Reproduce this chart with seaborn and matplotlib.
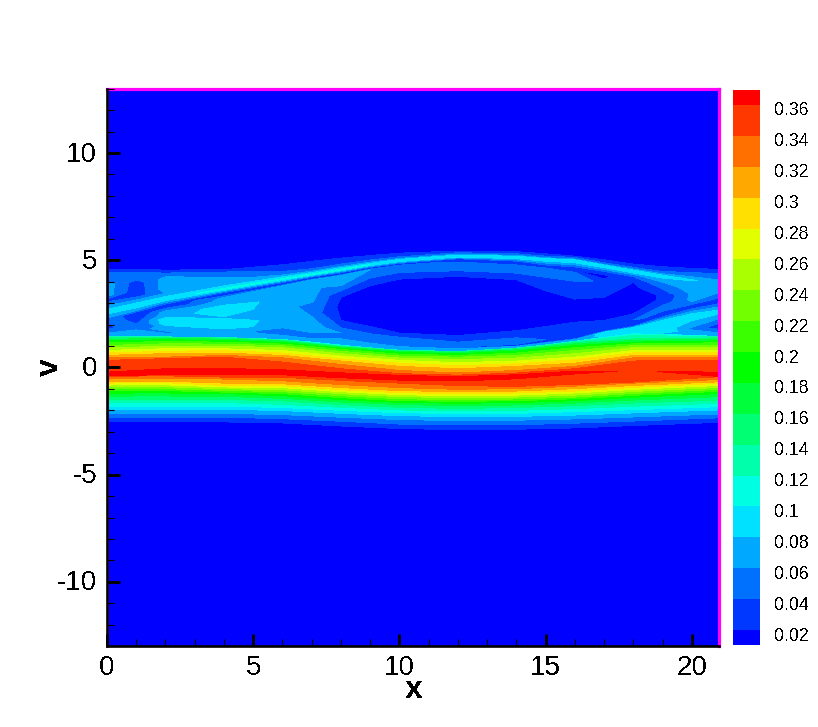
import numpy as np
import matplotlib
matplotlib.use("Agg")
import matplotlib.pyplot as plt
import matplotlib.transforms as mtrans
import seaborn as sns

# Main band: columns of the table
x_cols = [0, 1, 2, 4, 6, 8, 10, 12, 14, 16, 18, 20.94]

# Lower flank of the main band: (value, v position per column)
low_vals = [0.012, 0.02, 0.04, 0.06, 0.08, 0.10, 0.12, 0.14, 0.16, 0.18, 0.20, 0.22, 0.24, 0.26, 0.28, 0.30, 0.32, 0.34]
low_v = [
    [-2.66, -2.66, -2.66, -2.66, -2.71, -2.85, -2.97, -3.02, -3.00, -2.94, -2.83, -2.68],
    [-2.54, -2.54, -2.54, -2.54, -2.59, -2.73, -2.85, -2.90, -2.88, -2.82, -2.71, -2.56],
    [-2.34, -2.33, -2.32, -2.32, -2.39, -2.51, -2.64, -2.68, -2.67, -2.60, -2.50, -2.35],
    [-2.15, -2.14, -2.14, -2.14, -2.20, -2.32, -2.43, -2.48, -2.46, -2.40, -2.31, -2.17],
    [-1.97, -1.95, -1.95, -1.95, -2.01, -2.14, -2.25, -2.29, -2.28, -2.22, -2.12, -1.98],
    [-1.81, -1.80, -1.80, -1.80, -1.87, -2.00, -2.11, -2.15, -2.14, -2.06, -1.97, -1.83],
    [-1.66, -1.64, -1.64, -1.64, -1.72, -1.86, -1.98, -2.03, -2.00, -1.92, -1.81, -1.67],
    [-1.50, -1.49, -1.49, -1.49, -1.56, -1.73, -1.86, -1.91, -1.87, -1.78, -1.66, -1.52],
    [-1.35, -1.33, -1.33, -1.35, -1.44, -1.61, -1.73, -1.78, -1.75, -1.66, -1.52, -1.36],
    [-1.21, -1.19, -1.19, -1.22, -1.32, -1.50, -1.63, -1.67, -1.64, -1.55, -1.39, -1.22],
    [-1.10, -1.08, -1.08, -1.15, -1.22, -1.41, -1.55, -1.58, -1.55, -1.46, -1.30, -1.11],
    [-1.01, -0.99, -0.99, -1.07, -1.13, -1.32, -1.46, -1.50, -1.47, -1.38, -1.21, -1.02],
    [-0.91, -0.90, -0.90, -0.99, -1.04, -1.22, -1.36, -1.41, -1.38, -1.29, -1.12, -0.93],
    [-0.82, -0.81, -0.81, -0.91, -0.94, -1.13, -1.27, -1.32, -1.29, -1.19, -1.02, -0.84],
    [-0.73, -0.71, -0.71, -0.84, -0.85, -1.04, -1.18, -1.22, -1.19, -1.10, -0.93, -0.74],
    [-0.65, -0.64, -0.64, -0.73, -0.76, -0.94, -1.08, -1.13, -1.10, -0.99, -0.84, -0.67],
    [-0.54, -0.53, -0.51, -0.54, -0.62, -0.80, -0.94, -1.02, -0.99, -0.87, -0.73, -0.56],
    [-0.43, -0.40, -0.39, -0.45, -0.46, -0.60, -0.73, -0.85, -0.88, -0.79, -0.68, -0.43],
]

# Crest of the main band: edge, ridge, edge (v and value per column)
crest_v = [
    [-0.40, -0.36, -0.34, -0.34, -0.34, -0.48, -0.59, -0.63, -0.53, -0.30, -0.26, -0.42],
    [-0.31, -0.22, -0.17, -0.15, -0.23, -0.37, -0.50, -0.54, -0.45, -0.26, -0.14, -0.32],
    [-0.22, -0.14, -0.06, -0.05, -0.11, -0.25, -0.37, -0.43, -0.34, -0.17, -0.00, -0.22],
]
crest_f = [
    [0.36, 0.36, 0.36, 0.36, 0.36, 0.36, 0.36, 0.36, 0.36, 0.36, 0.35, 0.36],
    [0.368, 0.368, 0.368, 0.368, 0.368, 0.368, 0.368, 0.368, 0.368, 0.368, 0.357, 0.368],
    [0.36, 0.36, 0.36, 0.36, 0.36, 0.36, 0.36, 0.36, 0.36, 0.36, 0.35, 0.36],
]

# Upper flank of the main band
up_vals = [0.34, 0.32, 0.30, 0.28, 0.26, 0.24, 0.22, 0.20, 0.18, 0.16, 0.14, 0.12, 0.10, 0.08]
up_v = [
    [0.33, 0.37, 0.41, 0.48, 0.25, -0.06, -0.29, -0.36, -0.26, -0.06, 0.30, 0.33],
    [0.45, 0.48, 0.48, 0.56, 0.45, 0.14, -0.14, -0.26, -0.14, 0.05, 0.45, 0.45],
    [0.56, 0.61, 0.64, 0.67, 0.56, 0.30, 0.05, -0.06, 0.05, 0.20, 0.56, 0.56],
    [0.68, 0.71, 0.76, 0.78, 0.67, 0.40, 0.20, 0.08, 0.17, 0.36, 0.68, 0.68],
    [0.79, 0.84, 0.87, 0.87, 0.79, 0.53, 0.33, 0.22, 0.30, 0.48, 0.79, 0.79],
    [0.92, 0.95, 0.98, 0.99, 0.92, 0.64, 0.44, 0.36, 0.44, 0.64, 0.92, 0.92],
    [1.02, 1.07, 1.10, 1.09, 1.01, 0.75, 0.53, 0.48, 0.56, 0.79, 1.02, 1.02],
    [1.15, 1.18, 1.21, 1.18, 1.09, 0.84, 0.62, 0.56, 0.67, 0.92, 1.10, 1.15],
    [1.24, 1.27, 1.29, 1.26, 1.16, 0.90, 0.70, 0.64, 0.76, 1.02, 1.18, 1.24],
    [1.32, 1.33, 1.35, 1.32, 1.23, 0.95, 0.75, 0.70, 0.82, 1.10, 1.26, 1.32],
    [1.38, 1.40, 1.40, 1.37, 1.26, 0.98, 0.78, 0.73, 0.87, 1.16, 1.33, 1.38],
    [1.43, 1.43, 1.43, 1.40, 1.29, 1.01, 0.81, 0.75, 0.90, 1.21, 1.49, 1.43],
    [1.46, 1.46, 1.46, 1.43, 1.32, 1.04, 0.82, 0.76, 0.93, 1.24, 1.57, 1.46],
    [1.50, 1.49, 1.47, 1.46, 1.35, 1.09, 0.85, 0.79, 0.95, 1.27, 1.65, 1.49],
]

# Vortex region above the main band, one v list and one value list per column
vortex_x = [0, 1, 2, 4, 6, 7, 8, 9, 10, 12, 14, 15, 16, 17, 18, 19, 20, 20.94]
vortex_v = [
    [1.51, 1.60, 1.91, 2.06, 2.19, 2.25, 2.27, 2.28, 2.30, 2.30, 2.31, 2.32, 2.33, 2.34, 2.37, 2.62, 3.15, 3.35, 3.89, 4.02, 4.43, 4.59, 4.74],
    [1.49, 1.57, 1.75, 1.85, 2.03, 2.11, 2.19, 2.31, 2.40, 2.47, 2.53, 2.59, 2.65, 2.70, 2.78, 2.93, 3.35, 3.58, 3.97, 4.17, 4.43, 4.57, 4.74],
    [1.47, 1.55, 1.65, 1.75, 1.88, 2.03, 2.22, 2.37, 2.57, 2.68, 2.76, 2.81, 2.87, 2.93, 2.99, 3.19, 3.46, 3.66, 4.12, 4.28, 4.40, 4.54, 4.70],
    [1.44, 1.52, 1.60, 1.69, 1.75, 1.85, 2.19, 2.31, 2.47, 2.73, 2.96, 3.12, 3.24, 3.30, 3.43, 3.66, 3.89, 4.05, 4.20, 4.36, 4.45, 4.56, 4.74],
    [1.35, 1.43, 1.57, 1.72, 1.85, 1.95, 2.19, 2.50, 2.96, 3.27, 3.50, 3.66, 3.77, 3.81, 3.89, 4.12, 4.29, 4.36, 4.42, 4.48, 4.54, 4.79, 4.98],
    [1.23, 1.30, 1.38, 1.46, 1.57, 1.69, 1.95, 2.19, 2.73, 3.19, 3.50, 3.81, 3.97, 4.08, 4.16, 4.34, 4.48, 4.51, 4.56, 4.60, 4.65, 4.95, 5.13],
    [1.09, 1.16, 1.33, 1.41, 1.49, 1.61, 1.69, 1.85, 2.19, 2.73, 3.27, 3.58, 3.81, 4.28, 4.36, 4.56, 4.70, 4.73, 4.78, 4.82, 4.88, 5.10, 5.29],
    [0.96, 1.04, 1.18, 1.26, 1.32, 1.41, 1.57, 1.91, 2.50, 3.27, 3.81, 4.17, 4.43, 4.56, 4.62, 4.79, 4.90, 4.93, 4.96, 5.01, 5.07, 5.22, 5.41],
    [0.85, 0.92, 1.02, 1.09, 1.21, 1.29, 1.41, 1.60, 2.81, 3.43, 4.12, 4.43, 4.64, 4.73, 4.81, 4.98, 5.07, 5.10, 5.13, 5.16, 5.21, 5.33, 5.49],
    [0.79, 0.85, 0.89, 0.90, 0.92, 0.98, 1.18, 1.49, 2.96, 3.58, 4.25, 4.51, 4.82, 4.98, 5.04, 5.19, 5.27, 5.30, 5.33, 5.35, 5.38, 5.43, 5.57],
    [0.95, 0.97, 0.98, 0.99, 1.01, 1.10, 1.38, 1.75, 3.12, 3.58, 4.09, 4.40, 4.67, 4.85, 4.93, 5.13, 5.21, 5.24, 5.27, 5.30, 5.33, 5.40, 5.52],
    [1.10, 1.13, 1.14, 1.15, 1.19, 1.30, 1.60, 1.91, 2.65, 3.27, 3.58, 4.20, 4.54, 4.70, 4.78, 5.04, 5.10, 5.13, 5.16, 5.19, 5.22, 5.30, 5.44],
    [1.27, 1.29, 1.30, 1.30, 1.37, 1.49, 1.80, 2.11, 2.57, 2.88, 3.19, 4.02, 4.36, 4.54, 4.64, 4.98, 5.04, 5.07, 5.10, 5.13, 5.16, 5.19, 5.35],
    [1.46, 1.50, 1.55, 1.63, 1.72, 1.83, 1.95, 2.19, 2.42, 2.81, 3.27, 3.58, 3.81, 4.28, 4.48, 4.74, 4.79, 4.82, 4.85, 4.88, 4.93, 5.02, 5.18],
    [1.65, 1.69, 1.75, 1.83, 1.95, 2.08, 2.22, 2.50, 2.96, 3.43, 3.81, 3.97, 4.12, 4.23, 4.31, 4.48, 4.57, 4.60, 4.64, 4.67, 4.71, 4.82, 4.98],
    [1.60, 1.72, 1.91, 2.11, 2.47, 2.68, 2.81, 2.96, 3.19, 3.35, 3.43, 3.66, 3.81, 3.97, 4.08, 4.26, 4.36, 4.39, 4.42, 4.47, 4.54, 4.70, 4.85],
    [1.54, 1.65, 1.80, 2.42, 2.88, 2.96, 3.07, 3.19, 3.35, 3.50, 3.58, 3.64, 3.71, 3.77, 3.85, 4.08, 4.16, 4.23, 4.30, 4.36, 4.43, 4.62, 4.78],
    [1.49, 1.61, 1.91, 2.60, 3.16, 3.24, 3.35, 3.50, 3.61, 3.69, 3.74, 3.80, 3.85, 3.87, 3.89, 3.97, 4.02, 4.08, 4.16, 4.23, 4.36, 4.57, 4.74],
]
vortex_f = [
    [.08, .06, .03, .045, .05, .055, .057, .06, .06, .062, .063, .064, .065, .065, .07, .09, .03, .07, .07, .05, .04, .02, .012],
    [.08, .07, .06, .05, .04, .035, .03, .025, .02, .02, .025, .04, .06, .07, .08, .09, .03, .025, .03, .05, .04, .02, .012],
    [.08, .07, .05, .07, .07, .09, .095, .075, .07, .055, .04, .02, .02, .03, .05, .095, .06, .07, .07, .055, .04, .02, .012],
    [.08, .07, .075, .07, .07, .09, .095, .075, .09, .095, .075, .07, .065, .05, .018, .105, .065, .07, .06, .05, .04, .02, .012],
    [.08, .07, .05, .05, .06, .07, .07, .07, .07, .07, .07, .07, .07, .06, .015, .105, .065, .05, .045, .04, .03, .02, .012],
    [.08, .07, .05, .05, .05, .07, .07, .065, .05, .065, .07, .07, .07, .06, .015, .105, .065, .05, .045, .04, .03, .02, .012],
    [.08, .07, .06, .055, .05, .06, .05, .04, .02, .012, .02, .04, .06, .065, .015, .105, .065, .05, .045, .04, .03, .02, .012],
    [.08, .07, .055, .05, .05, .055, .04, .02, .012, .012, .02, .04, .06, .06, .015, .1, .065, .05, .045, .04, .03, .02, .012],
    [.08, .07, .05, .05, .045, .05, .04, .02, .012, .012, .02, .04, .06, .06, .02, .0995, .07, .05, .045, .04, .03, .02, .012],
    [.08, .07, .05, .045, .03, .05, .04, .02, .012, .012, .02, .04, .055, .03, .025, .0995, .07, .05, .045, .04, .03, .02, .012],
    [.08, .07, .06, .06, .025, .045, .04, .018, .012, .012, .02, .04, .055, .03, .03, .0995, .07, .05, .045, .04, .03, .02, .012],
    [.08, .07, .06, .06, .02, .04, .04, .02, .012, .012, .02, .04, .055, .03, .04, .0995, .07, .05, .045, .04, .03, .02, .012],
    [.08, .07, .065, .06, .02, .035, .035, .02, .012, .012, .02, .04, .055, .02, .03, .0995, .07, .05, .045, .04, .03, .02, .012],
    [.08, .085, .085, .09, .018, .03, .04, .02, .012, .012, .02, .03, .03, .015, .04, .0995, .07, .05, .045, .04, .03, .02, .012],
    [.08, .09, .10, .10, .018, .035, .04, .02, .012, .012, .018, .02, .03, .04, .055, .0995, .07, .05, .045, .04, .03, .02, .012],
    [.08, .09, .10, .10, .015, .05, .055, .03, .022, .022, .03, .04, .05, .06, .07, .09, .065, .05, .045, .04, .03, .02, .012],
    [.08, .07, .055, .095, .015, .05, .06, .065, .065, .065, .07, .07, .07, .07, .07, .082, .065, .06, .055, .05, .04, .02, .012],
    [.08, .06, .025, .09, .015, .04, .055, .06, .065, .07, .07, .07, .07, .07, .07, .072, .065, .06, .055, .05, .04, .02, .012],
]

background = 0.012
x_limits = [0, 20.94]
v_limits = [-13, 13]
x_ticks = [0, 5, 10, 15, 20]
v_ticks = [-10, -5, 0, 5, 10]
level_edges = [0.0103] + [round(0.02 * i, 2) for i in range(1, 19)] + [0.3697]
bar_ticks = [round(0.02 * i, 2) for i in range(1, 19)]
stops = ["#0000ff", "#00ffff", "#00ff00", "#ffff00", "#ff0000"]

sns.set_theme(style="ticks")
plt.rcParams["font.family"] = ["Liberation Sans", "DejaVu Sans"]
plt.rcParams["text.antialiased"] = False
plt.rcParams["axes.unicode_minus"] = False

# Main band mesh
n = len(x_cols)
V1 = np.vstack([np.full((1, n), v_limits[0]), low_v, crest_v, up_v])
F1 = np.vstack([
    np.full((1, n), background),
    np.array(low_vals)[:, None] * np.ones((1, n)),
    crest_f,
    np.array(up_vals)[:, None] * np.ones((1, n)),
])
X1 = np.tile(x_cols, (V1.shape[0], 1))

# Vortex mesh
m = len(vortex_x)
V2 = np.vstack([np.array(vortex_v).T, np.full((1, m), v_limits[1])])
F2 = np.vstack([np.array(vortex_f).T, np.full((1, m), background)])
X2 = np.tile(vortex_x, (V2.shape[0], 1))

W, H = 818, 727
fig = plt.figure(figsize=(W / 100, H / 100), dpi=100, facecolor="white")
L, R, T, B = 107, 719.4, 88.7, 646.2
ax = fig.add_axes([L / W, (H - B) / H, (R - L) / W, (B - T) / H])
palette = sns.blend_palette(stops, len(level_edges) - 1)
ax.set_facecolor(palette[3])
cf = ax.contourf(X1, V1, F1, levels=level_edges, colors=palette, antialiased=False)
ax.contourf(X2, V2, F2, levels=level_edges, colors=palette, antialiased=False)
ax.set_axisbelow(False)
ax.set_xlim(x_limits)
ax.set_ylim(v_limits)
ax.set_xticks(x_ticks)
ax.set_yticks(v_ticks)
ax.set_xticks(np.arange(0, 21, 1), minor=True)
ax.set_yticks(np.arange(-13, 14, 1), minor=True)
ax.tick_params(which="major", direction="in", length=9, width=2.1, labelsize=20, color="black", labelcolor="black", pad=7)
ax.tick_params(axis="x", which="major", pad=6)
ax.tick_params(which="minor", direction="in", length=5.2, width=0.8, color="black")
ax.axvline(x_limits[0], color="#ff00ff", lw=2.2, zorder=1.9)
for side in ("left", "bottom"):
    ax.spines[side].set_color("black")
    ax.spines[side].set_linewidth(1.9)
    ax.spines[side].set_zorder(3)
for side in ("top", "right"):
    ax.spines[side].set_visible(True)
    ax.spines[side].set_color("#ff00ff")
    ax.spines[side].set_linewidth(2.3)
ax.set_xlabel("x", fontsize=23, fontweight="bold", labelpad=-4, color="black")
ax.set_ylabel("v", fontsize=23, fontweight="bold", labelpad=-6, color="black")
y_shift = mtrans.ScaledTranslation(0, 1.5 / 100, fig.dpi_scale_trans)
for lab in ax.get_yticklabels():
    lab.set_transform(lab.get_transform() + y_shift)

cax = fig.add_axes([733 / W, (H - 645) / H, 27 / W, 555 / H])
cb = fig.colorbar(cf, cax=cax, spacing="proportional", ticks=bar_ticks, format="%g", drawedges=False)
cb.outline.set_visible(False)
cax.tick_params(length=0, labelsize=12.7, pad=10.5, labelcolor="black")
shift = mtrans.ScaledTranslation(0, -4 / 100, fig.dpi_scale_trans)
for lab in cax.get_yticklabels():
    lab.set_transform(lab.get_transform() + shift)

fig.savefig("out.png", dpi=100, facecolor="white")
